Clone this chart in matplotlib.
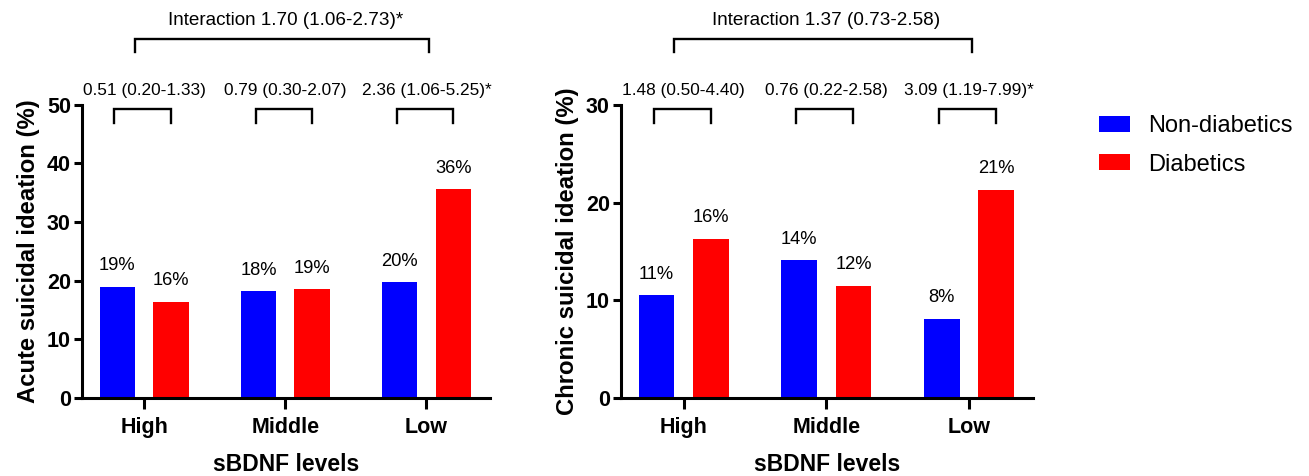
import matplotlib
matplotlib.use("Agg")
import matplotlib.pyplot as plt
import matplotlib.transforms as mtransforms
from matplotlib.patches import Patch

plt.rcParams['font.family'] = ['Liberation Sans', 'DejaVu Sans']

categories = ["High", "Middle", "Low"]
series_names = ["Non-diabetics", "Diabetics"]
colors = ["#0000FF", "#FF0000"]

acute_non = [19.0, 18.2, 19.7]
acute_dia = [16.4, 18.5, 35.6]
acute_lbl_non = ["19%", "18%", "20%"]
acute_lbl_dia = ["16%", "19%", "36%"]
acute_or = ["0.51 (0.20-1.33)", "0.79 (0.30-2.07)", "2.36 (1.06-5.25)*"]
acute_inter = "Interaction 1.70 (1.06-2.73)*"
acute_yticks = [0, 10, 20, 30, 40, 50]

chronic_non = [10.5, 14.1, 8.1]
chronic_dia = [16.3, 11.5, 21.3]
chronic_lbl_non = ["11%", "14%", "8%"]
chronic_lbl_dia = ["16%", "12%", "21%"]
chronic_or = ["1.48 (0.50-4.40)", "0.76 (0.22-2.58)", "3.09 (1.19-7.99)*"]
chronic_inter = "Interaction 1.37 (0.73-2.58)"
chronic_yticks = [0, 10, 20, 30]

fig = plt.figure(figsize=(13.09, 4.76), dpi=100)
ax1 = fig.add_axes([0.0626, 0.1639, 0.3117, 0.616])
ax2 = fig.add_axes([0.4744, 0.1639, 0.3148, 0.616])

W = 0.25
OFF = 0.19

def draw(ax, non, dia, lnon, ldia, ors, inter, yticks, ylabel):
    x = list(range(len(categories)))
    xb = [i - OFF for i in x]
    xr = [i + OFF for i in x]
    b1 = ax.bar(xb, non, W, color=colors[0])
    b2 = ax.bar(xr, dia, W, color=colors[1])
    ax.bar_label(b1, labels=lnon, padding=9, fontsize=13.2)
    ax.bar_label(b2, labels=ldia, padding=9, fontsize=13.2)
    ax.set_xlim(-0.44, 2.45)
    ax.set_ylim(yticks[0], yticks[-1])
    ax.set_yticks(yticks)
    ax.set_xticks(x)
    ax.set_xticklabels(categories)
    for s in ['top', 'right']:
        ax.spines[s].set_visible(False)
    for s in ['left', 'bottom']:
        ax.spines[s].set_linewidth(2.2)
    ax.tick_params(axis='both', width=2.2, labelsize=15.5)
    ax.tick_params(axis='y', length=6, pad=2)
    ax.tick_params(axis='x', length=8, pad=5.5)
    for t in ax.get_xticklabels() + ax.get_yticklabels():
        t.set_fontweight('bold')
    ax.set_ylabel(ylabel, fontsize=17.2, fontweight='bold', labelpad=5)
    ax.set_xlabel("sBDNF levels", fontsize=16.5, fontweight='bold', labelpad=11)
    tr = mtransforms.blended_transform_factory(ax.transData, ax.transAxes)
    for i, txt in enumerate(ors):
        x0, x1 = i - 0.21, i + 0.19
        ax.plot([x0, x0, x1, x1], [0.939, 0.985, 0.985, 0.939], color='black',
                lw=1.7, transform=tr, clip_on=False, solid_joinstyle='miter')
        ax.text(i, 1.048, txt, ha='center', va='center', fontsize=12.4,
                transform=tr, clip_on=False)
    x0, x1 = -0.065, 2.02
    ax.plot([x0, x0, x1, x1], [1.18, 1.223, 1.223, 1.18], color='black',
            lw=1.7, transform=tr, clip_on=False, solid_joinstyle='miter')
    ax.text(1, 1.289, inter, ha='center', va='center', fontsize=13.6,
            transform=tr, clip_on=False)

draw(ax1, acute_non, acute_dia, acute_lbl_non, acute_lbl_dia, acute_or,
     acute_inter, acute_yticks, "Acute suicidal ideation (%)")
draw(ax2, chronic_non, chronic_dia, chronic_lbl_non, chronic_lbl_dia, chronic_or,
     chronic_inter, chronic_yticks, "Chronic suicidal ideation (%)")

handles = [Patch(facecolor=c) for c in colors]
fig.legend(handles, series_names, loc='upper left', bbox_to_anchor=(0.832, 0.778),
           frameon=False, fontsize=17, handlelength=1.35, handleheight=0.65,
           handletextpad=0.75, labelspacing=0.7, borderaxespad=0)

fig.savefig("out.png", dpi=100)
